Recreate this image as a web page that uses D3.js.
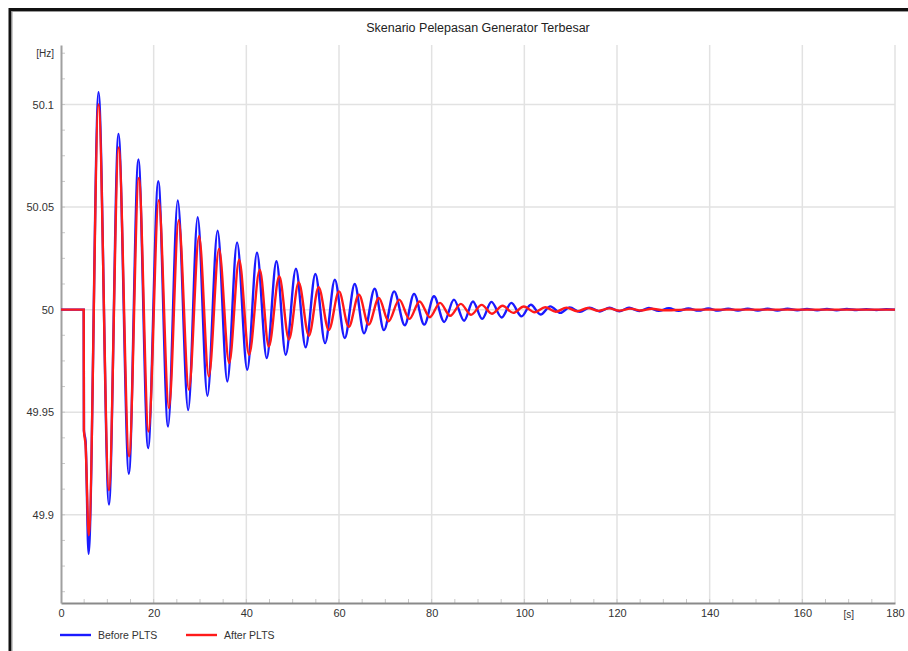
<!DOCTYPE html>
<html>
<head>
<meta charset="utf-8">
<script src="https://cdn.jsdelivr.net/npm/d3@7"></script>
<style>
  html, body { margin: 0; padding: 0; background: #fff; }
  svg { display: block; font-family: "Liberation Sans", Arial, sans-serif; }
</style>
</head>
<body>
<svg id="chart" width="908" height="651"></svg>
<script>
// ---- data (local extrema of each trace) ----
const title = "Skenario Pelepasan Generator Terbesar";
const xTicks = [0, 20, 40, 60, 80, 100, 120, 140, 160, 180];
const yTicks = [49.9, 49.95, 50, 50.05, 50.1];
const yTickLabels = ["49.9", "49.95", "50", "50.05", "50.1"];
const seriesNames = ["Before PLTS", "After PLTS"];

const beforeTime = [0, 4.9, 4.95, 5.3, 5.95, 8.1, 10.35, 12.4, 14.65, 16.7, 18.8, 21.0, 23.1, 25.2, 27.45, 29.5, 31.6, 33.8, 35.9, 38.0, 40.2, 42.3, 44.4, 46.5, 48.5, 50.7, 52.8, 54.9, 57.0, 59.1, 61.25, 63.4, 65.4, 67.7, 69.7, 71.9, 74.2, 76.2, 78.4, 80.5, 82.7, 84.8, 87.0, 88.9, 90.9, 92.9, 95.1, 97.2, 99.4, 101.4, 103.5, 105.6, 107.8, 109.8, 112.0, 114.1, 116.3, 118.4, 120.5, 122.6, 124.8, 126.9, 129.0, 131.2, 133.3, 135.4, 137.6, 139.7, 141.8, 144.0, 146.1, 148.2, 150.4, 152.5, 154.6, 156.8, 158.9, 161.0, 163.2, 165.3, 167.4, 169.6, 171.7, 173.8, 176.0, 178.1, 180];
const beforeHz = [50, 50, 49.941, 49.936, 49.881, 50.106, 49.905, 50.0857, 49.920, 50.0732, 49.9325, 50.0626, 49.943, 50.0532, 49.951, 50.045, 49.958, 50.0385, 49.965, 50.0328, 49.9707, 50.0277, 49.9764, 50.0236, 49.978, 50.0199, 49.9816, 50.0174, 49.9837, 50.0146, 49.9862, 50.0125, 49.9885, 50.0102, 49.990, 50.0089, 49.9924, 50.0077, 49.9927, 50.0065, 49.994, 50.0049, 49.9946, 50.004, 49.9955, 50.0038, 49.9962, 50.0033, 49.9967, 50.0024, 49.9976, 50.0016, 49.9984, 50.0011, 49.9989, 50.0010, 49.9991, 50.0010, 49.9992, 50.0009, 49.9993, 50.0008, 49.9994, 50.0007, 49.9994, 50.0006, 49.9995, 50.0006, 49.9995, 50.0005, 49.9996, 50.0005, 49.9996, 50.0004, 49.9996, 50.0004, 49.9997, 50.0003, 49.9997, 50.0003, 49.9997, 50.0003, 49.9998, 50.0002, 49.9998, 50.0002, 50.0];

const afterTime = [0, 4.9, 4.95, 5.3, 6.0, 8.1, 10.35, 12.45, 14.7, 16.8, 18.9, 21.1, 23.3, 25.4, 27.6, 29.8, 31.9, 34.1, 36.3, 38.45, 40.6, 42.9, 44.85, 47.1, 49.2, 51.3, 53.5, 55.6, 57.8, 60.0, 62.1, 64.3, 66.4, 68.6, 70.7, 73.0, 75.2, 77.4, 79.6, 81.8, 84.0, 86.3, 88.5, 90.8, 93.0, 95.3, 97.6, 99.9, 102.2, 104.5, 106.8, 109.1, 111.4, 113.7, 116.0, 118.3, 120.6, 122.9, 125.2, 127.5, 130.0, 135, 180];
const afterHz = [50, 50, 49.941, 49.934, 49.890, 50.100, 49.912, 50.079, 49.9285, 50.0642, 49.9406, 50.0533, 49.952, 50.0436, 49.961, 50.0358, 49.9675, 50.0296, 49.974, 50.0244, 49.978, 50.0195, 49.982, 50.0163, 49.9854, 50.0133, 49.9873, 50.0109, 49.990, 50.0089, 49.9916, 50.0073, 49.9927, 50.0057, 49.9943, 50.0049, 49.9955, 50.0040, 49.9963, 50.0033, 49.997, 50.0028, 49.9975, 50.0023, 49.998, 50.0019, 49.9984, 50.0015, 49.9987, 50.0012, 49.999, 50.001, 49.9992, 50.0008, 49.9994, 50.0006, 49.9995, 50.0005, 49.9996, 50.0004, 49.9997, 50.0, 50.0];

// ---- layout ----
const svg = d3.select("#chart");
const plot = { left: 61, right: 895, top: 45, bottom: 603 };
const x = d3.scaleLinear().domain([0, 180]).range([plot.left, plot.right]);
const y = d3.scaleLinear().domain([49.857, 50.129]).range([plot.bottom, plot.top]);

// outer frame
svg.append("path")
  .attr("d", `M10,660 L10,9.5 L910,9.5`)
  .attr("fill", "none").attr("stroke", "#111").attr("stroke-width", 3);
svg.append("path")
  .attr("d", `M12,660 L12,11.5 L910,11.5`)
  .attr("fill", "none").attr("stroke", "#999").attr("stroke-width", 1);

// title
svg.append("text").attr("x", 478).attr("y", 32).attr("text-anchor", "middle")
  .attr("font-size", 12.5).attr("fill", "#222").text(title);

// grid
const grid = svg.append("g");
grid.selectAll("line.v").data(xTicks.filter(d => d > 0)).enter().append("line")
  .attr("x1", d => x(d)).attr("x2", d => x(d))
  .attr("y1", plot.top).attr("y2", plot.bottom)
  .attr("stroke", "#e2e2e2").attr("stroke-width", 1.5);
grid.selectAll("line.h").data(yTicks).enter().append("line")
  .attr("x1", plot.left).attr("x2", plot.right)
  .attr("y1", d => y(d)).attr("y2", d => y(d))
  .attr("stroke", "#e2e2e2").attr("stroke-width", 1.5);

// minor ticks
const xMinor = d3.range(5, 180, 5);
svg.append("g").selectAll("line").data(xMinor).enter().append("line")
  .attr("x1", d => x(d)).attr("x2", d => x(d))
  .attr("y1", plot.bottom - 4).attr("y2", plot.bottom)
  .attr("stroke", "#c8c8c8").attr("stroke-width", 1);
const yMinor = d3.range(0, 22).map(i => 49.8625 + i * 0.0125);
svg.append("g").selectAll("line").data(yMinor).enter().append("line")
  .attr("x1", plot.left).attr("x2", plot.left + 4)
  .attr("y1", d => y(d)).attr("y2", d => y(d))
  .attr("stroke", "#c8c8c8").attr("stroke-width", 1);

// axes
const xAxis = d3.axisBottom(x).tickValues(xTicks).tickSize(0).tickPadding(6).tickFormat(d3.format("d"));
const gx = svg.append("g").attr("transform", `translate(0,${plot.bottom})`).call(xAxis);
gx.select(".domain").attr("stroke", "#8a8a8a").attr("stroke-width", 2);
gx.selectAll("text").attr("font-size", 11).attr("fill", "#333").attr("font-family", "Liberation Sans, Arial, sans-serif");

const yAxis = d3.axisLeft(y).tickValues(yTicks).tickSize(0).tickPadding(7).tickFormat((d, i) => yTickLabels[i]);
const gy = svg.append("g").attr("transform", `translate(${plot.left},0)`).call(yAxis);
gy.select(".domain").attr("stroke", "#a0a0a0").attr("stroke-width", 2);
gy.selectAll("text").attr("font-size", 11).attr("fill", "#333").attr("font-family", "Liberation Sans, Arial, sans-serif");

// unit labels
svg.append("text").attr("x", 54).attr("y", y(50.125) + 4).attr("text-anchor", "end")
  .attr("font-size", 10).attr("fill", "#333").text("[Hz]");
svg.append("text").attr("x", x(170)).attr("y", plot.bottom + 15).attr("text-anchor", "middle")
  .attr("font-size", 10).attr("fill", "#333").text("[s]");

// lines
const line = d3.line().x(d => x(d[0])).y(d => y(d[1])).curve(d3.curveMonotoneX);
const beforeData = beforeTime.map((t, i) => [t, beforeHz[i]]);
const afterData = afterTime.map((t, i) => [t, afterHz[i]]);
svg.append("path").datum(beforeData).attr("d", line)
  .attr("fill", "none").attr("stroke", "#1a1aff").attr("stroke-width", 2.4);
svg.append("path").datum(afterData).attr("d", line)
  .attr("fill", "none").attr("stroke", "#ff1a1a").attr("stroke-width", 2.4);

// legend
const colors = ["#1a1aff", "#ff1a1a"];
const legX = [60, 186];
seriesNames.forEach((name, i) => {
  svg.append("line").attr("x1", legX[i]).attr("x2", legX[i] + 31)
    .attr("y1", 635).attr("y2", 635).attr("stroke", colors[i]).attr("stroke-width", 2.4);
  svg.append("text").attr("x", legX[i] + 38).attr("y", 639)
    .attr("font-size", 10.5).attr("fill", "#333").text(name);
});
</script>
</body>
</html>
